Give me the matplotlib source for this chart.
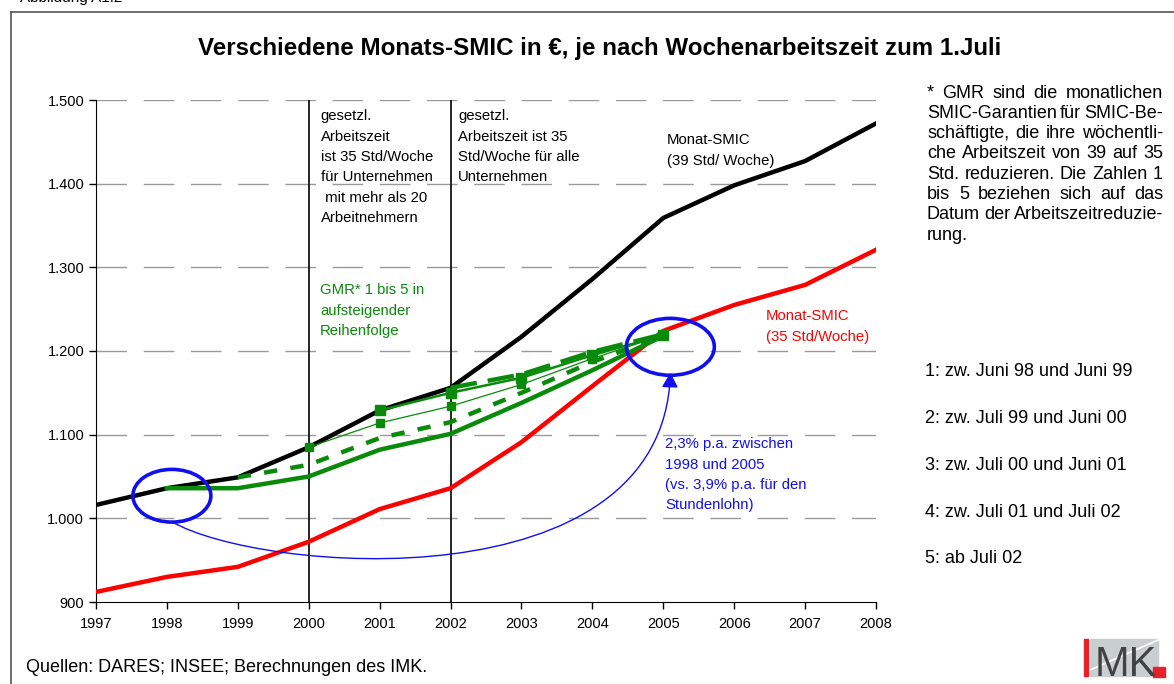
import matplotlib
matplotlib.use("Agg")
from matplotlib import pyplot as plt
from matplotlib.patches import Ellipse, Rectangle, FancyArrowPatch
from matplotlib.path import Path
from matplotlib.ticker import FuncFormatter

plt.rcParams['font.family'] = ['Liberation Sans', 'DejaVu Sans']

# data (EUR per month)
years = list(range(1997, 2009))
smic_39 = [1016, 1036, 1049, 1085, 1129, 1156, 1217, 1286, 1359, 1398, 1427, 1472]
smic_35 = [912, 930, 942, 972, 1011, 1036, 1091, 1158, 1224, 1255, 1279, 1321]

gmr1_years = [1998, 1999, 2000, 2001, 2002, 2003, 2004, 2005]
gmr1 = [1036, 1036, 1050, 1082, 1101, 1138, 1177, 1218]
gmr2_years = [1999, 2000, 2001, 2002, 2003, 2004, 2005]
gmr2 = [1049, 1064, 1096, 1115, 1150, 1187, 1218]
gmr3_years = [2000, 2001, 2002, 2003, 2004, 2005]
gmr3 = [1085, 1114, 1134, 1160, 1191, 1219]
gmr4_years = [2001, 2002, 2003, 2004, 2005]
gmr4 = [1129, 1150, 1168, 1195, 1219]
gmr5_years = [2002, 2003, 2004, 2005]
gmr5 = [1156, 1172, 1199, 1220]

y_ticks = [900, 1000, 1100, 1200, 1300, 1400, 1500]

W, H = 1174, 684
GREEN = '#0a8a0a'
BLUE = '#1010ee'
TXT = 10.7   # annotation size inside the plot
SIDE = 13    # size of side notes and footer


def fx(px):
    return px / W


def fy(py):
    return 1 - py / H


def justify(fig, renderer, line, x0, x1, y, size):
    # spread words so the line fills x0..x1 (pixels)
    words = line.split()
    texts = [fig.text(0, fy(y), w, fontsize=size, va='center', ha='left') for w in words]
    widths = [t.get_window_extent(renderer).width for t in texts]
    gap = (x1 - x0 - sum(widths)) / (len(words) - 1)
    x = x0
    for t, w in zip(texts, widths):
        t.set_x(fx(x))
        x += w + gap


fig = plt.figure(figsize=(W / 100, H / 100), dpi=100)
ax = fig.add_axes([fx(96), fy(602), fx(876) - fx(96), fy(100) - fy(602)])

ax.set_xlim(1997, 2008)
ax.set_ylim(900, 1500)
ax.set_yticks(y_ticks)
ax.set_xticks(years)
ax.yaxis.set_major_formatter(FuncFormatter(lambda v, p: f"{int(v):,}".replace(',', '.')))
for v in y_ticks[1:]:
    ax.axhline(v, color='#999999', lw=1, dashes=(22, 12), zorder=1)
ax.spines['top'].set_visible(False)
ax.spines['right'].set_visible(False)
ax.tick_params(axis='both', labelsize=10.5, length=5, width=1)
ax.tick_params(axis='x', pad=6)

ax.axvline(2000, color='black', lw=1.2, zorder=2)
ax.axvline(2002, color='black', lw=1.2, zorder=2)

ax.plot(years, smic_39, color='black', lw=3.2, zorder=3)
ax.plot(years, smic_35, color='#ff0000', lw=3.2, zorder=3)

ax.plot(gmr1_years, gmr1, color=GREEN, lw=3.2, zorder=4)
ax.plot(gmr2_years, gmr2, color=GREEN, lw=3.2, dashes=(3, 3), zorder=4)
ax.plot(gmr3_years, gmr3, color=GREEN, lw=0.9, marker='s', ms=6, zorder=4)
ax.plot(gmr4_years, gmr4, color=GREEN, lw=1.8, marker='s', ms=7, zorder=4)
ax.plot(gmr5_years, gmr5, color=GREEN, lw=3.2, dashes=(6, 2.5), zorder=4)

# blue ellipses and the curved arrow between them
ax.add_patch(Ellipse((1998.07, 1027), 1.1, 63, fill=False, ec=BLUE, lw=2.6, zorder=5))
ax.add_patch(Ellipse((2005.1, 1205), 1.24, 68, fill=False, ec=BLUE, lw=2.6, zorder=5))
curve = Path([(1998.07, 996), (1999.3, 935), (2005.0, 895), (2005.1, 1174)],
             [Path.MOVETO, Path.CURVE4, Path.CURVE4, Path.CURVE4])
ax.add_patch(FancyArrowPatch(path=curve, arrowstyle='-|>,head_length=9,head_width=5',
                             color=BLUE, lw=1, zorder=5))

ax.text(2000.17, 1489, "gesetzl.\nArbeitszeit\nist 35 Std/Woche\nfür Unternehmen\n mit mehr als 20\nArbeitnehmern",
        fontsize=TXT, va='top', ha='left', linespacing=1.58)
ax.text(2002.11, 1489, "gesetzl.\nArbeitszeit ist 35\nStd/Woche für alle\nUnternehmen",
        fontsize=TXT, va='top', ha='left', linespacing=1.58)
ax.text(2005.05, 1460, "Monat-SMIC\n(39 Std/ Woche)", fontsize=TXT, va='top', ha='left', linespacing=1.58)
ax.text(2006.45, 1250, "Monat-SMIC\n(35 Std/Woche)", fontsize=TXT, va='top', ha='left',
        color='#ff0000', linespacing=1.58)
ax.text(2000.16, 1281, "GMR* 1 bis 5 in\naufsteigender\nReihenfolge", fontsize=TXT, va='top', ha='left',
        color=GREEN, linespacing=1.58)
ax.text(2005.03, 1097, "2,3% p.a. zwischen\n1998 und 2005\n(vs. 3,9% p.a. für den\nStundenlohn)",
        fontsize=TXT, va='top', ha='left', color=BLUE, linespacing=1.58)

fig.text(fx(600), fy(48), "Verschiedene Monats-SMIC in €, je nach Wochenarbeitszeit zum 1.Juli",
         fontsize=17.4, fontweight='bold', ha='center', va='center')
fig.text(fx(20), fy(-2), "Abbildung A1.2", fontsize=11, ha='left', va='center')
fig.text(fx(26), fy(667), "Quellen: DARES; INSEE; Berechnungen des IMK.", fontsize=SIDE, ha='left', va='center')

# justified footnote on the right
note = ["* GMR sind die monatlichen",
        "SMIC-Garantien für SMIC-Be-",
        "schäftigte, die ihre wöchentli-",
        "che Arbeitszeit von 39 auf 35",
        "Std. reduzieren. Die Zahlen 1",
        "bis 5 beziehen sich auf das",
        "Datum der Arbeitszeitreduzie-"]
renderer = fig.canvas.get_renderer()
for i, line in enumerate(note):
    justify(fig, renderer, line, 927, 1163, 93 + i * 20.3, SIDE)
fig.text(fx(927), fy(93 + 7 * 20.3), "rung.", fontsize=SIDE, ha='left', va='center')

steps = ["1: zw. Juni 98 und Juni 99", "2: zw. Juli 99 und Juni 00", "3: zw. Juli 00 und Juni 01",
         "4: zw. Juli 01 und Juli 02", "5: ab Juli 02"]
for i, s in enumerate(steps):
    fig.text(fx(925), fy(372 + i * 46.7), s, fontsize=SIDE, ha='left', va='center')

# frame around the figure
fig.add_artist(plt.Line2D([fx(11), fx(11)], [fy(12), 0], color='#555555', lw=1.2))
fig.add_artist(plt.Line2D([fx(11), 1], [fy(12), fy(12)], color='#555555', lw=1.2))

# IMK logo
fig.add_artist(Rectangle((fx(1090), fy(676)), fx(68), fy(639) - fy(676), color='#c9ced1'))
fig.add_artist(Rectangle((fx(1084), fy(676)), fx(4), fy(639) - fy(676), color='#e8202a'))
fig.add_artist(Rectangle((fx(1153), fy(677)), fx(12), fy(667) - fy(677), color='#e8202a'))
fig.add_artist(plt.Line2D([fx(1090), fx(1158)], [fy(670), fy(640)], color='white', lw=1.2))
fig.text(fx(1095), fy(676), "MK", fontsize=30, color='#404346', ha='left', va='baseline',
         family=['Liberation Sans Narrow', 'Liberation Sans'])

fig.savefig("out.png", dpi=100)
